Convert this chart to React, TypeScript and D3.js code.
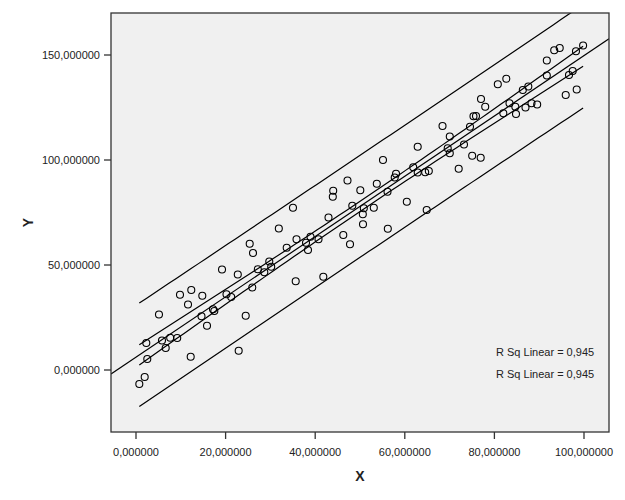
import React from "react";
import * as d3 from "d3";

const xValues = [
  0.74, 1.94, 2.30, 2.52, 5.13, 5.80, 6.63, 7.63, 9.20, 9.82,
  11.61, 12.21, 12.34, 14.62, 14.80, 15.85, 17.19, 17.48, 19.20, 20.20,
  21.25, 22.72, 22.92, 24.49, 25.38, 25.96, 26.12, 27.19, 28.64, 29.75,
  30.18, 31.88, 33.64, 35.04, 35.65, 35.83, 37.95, 38.39, 38.95, 40.74,
  41.81, 42.97, 43.93, 44.02, 46.27, 47.21, 47.77, 48.28, 50.07, 50.63,
  50.67, 50.85, 53.08, 53.75, 55.13, 56.14, 56.21, 57.75, 58.04, 60.45,
  61.88, 62.88, 62.88, 64.55, 64.89, 65.36, 68.42, 69.58, 70.04, 70.04,
  72.03, 73.21, 74.55, 75.04, 75.33, 75.89, 76.94, 77.01, 77.95, 80.76,
  81.99, 82.66, 83.37, 84.67, 84.82, 86.34, 86.94, 87.57, 88.28, 89.55,
  91.70, 91.70, 93.35, 94.58, 95.92, 96.65, 97.48, 98.21, 98.37, 99.80,
];
const yValues = [
  -6.67, -3.33, 12.86, 5.24, 26.43, 14.05, 10.48, 15.33, 15.24, 35.81,
  31.19, 6.33, 38.10, 25.62, 35.38, 21.10, 28.90, 28.10, 47.86, 36.05,
  34.76, 45.48, 9.19, 25.86, 60.10, 39.29, 55.71, 48.00, 46.52, 51.67,
  49.14, 67.38, 58.19, 77.29, 42.29, 62.24, 60.62, 57.14, 63.48, 62.29,
  44.38, 72.62, 82.52, 85.38, 64.29, 90.24, 59.86, 78.24, 85.57, 74.14,
  69.38, 77.00, 77.24, 88.71, 100.00, 84.90, 67.24, 91.67, 93.48, 80.14,
  96.52, 94.05, 106.33, 94.14, 76.19, 94.76, 116.19, 105.57, 111.19, 103.24,
  95.86, 107.38, 115.86, 102.00, 120.81, 120.95, 101.10, 129.05, 125.33, 136.05,
  122.24, 138.67, 127.00, 125.38, 121.90, 133.33, 125.00, 135.00, 127.00, 126.43,
  147.38, 140.24, 152.29, 153.33, 130.95, 140.48, 142.38, 151.76, 133.57, 154.52,
];
const xTicks = [0, 20, 40, 60, 80, 100];
const yTicks = [0, 50, 100, 150];
const xDomain = [-5.58, 105.58];
const yDomain = [-29.52, 170.0];
const xTitle = "X";
const yTitle = "Y";
const rSqLabels = ["R Sq Linear = 0,945", "R Sq Linear = 0,945"];

const W = 625;
const H = 500;
const frame = { left: 111, top: 13, right: 609, bottom: 432 };
const FONT = "'Liberation Sans', Arial, sans-serif";
const T_CRIT = 2.39;

const fmt = (v: number) => d3.format(".6f")(v).replace(".", ",");

export default function App() {
  const x = d3.scaleLinear().domain(xDomain).range([frame.left, frame.right]);
  const y = d3.scaleLinear().domain(yDomain).range([frame.bottom, frame.top]);

  const n = xValues.length;
  const mx = d3.mean(xValues) as number;
  const my = d3.mean(yValues) as number;
  let sxx = 0;
  let sxy = 0;
  for (let i = 0; i < n; i++) {
    sxx += (xValues[i] - mx) ** 2;
    sxy += (xValues[i] - mx) * (yValues[i] - my);
  }
  const b = sxy / sxx;
  const a = my - b * mx;
  let sse = 0;
  for (let i = 0; i < n; i++) sse += (yValues[i] - (a + b * xValues[i])) ** 2;
  const s = Math.sqrt(sse / (n - 2));

  const xmin = d3.min(xValues) as number;
  const xmax = d3.max(xValues) as number;
  const samples = d3.range(0, 61).map((i) => xmin + ((xmax - xmin) * i) / 60);

  const band = (k: number, sign: number) =>
    samples.map((xv) => {
      const se = s * Math.sqrt(k + 1 / n + (xv - mx) ** 2 / sxx);
      return [xv, a + b * xv + sign * T_CRIT * se] as [number, number];
    });

  const line = d3
    .line<[number, number]>()
    .x((d) => x(d[0]))
    .y((d) => y(d[1]));

  const fitPts: [number, number][] = [
    [xDomain[0], a + b * xDomain[0]],
    [xDomain[1], a + b * xDomain[1]],
  ];

  const curves = [band(0, 1), band(0, -1), band(1, 1), band(1, -1)];

  return (
    <svg
      width={W}
      height={H}
      style={{ position: "absolute", left: 0, top: 0, background: "#ffffff" }}
      fontFamily={FONT}
    >
      <defs>
        <clipPath id="plotclip">
          <rect
            x={frame.left}
            y={frame.top}
            width={frame.right - frame.left}
            height={frame.bottom - frame.top}
          />
        </clipPath>
      </defs>
      <rect x={0} y={0} width={W} height={H} fill="#ffffff" />
      <rect
        x={frame.left}
        y={frame.top}
        width={frame.right - frame.left}
        height={frame.bottom - frame.top}
        fill="#f0f0f0"
      />
      <g clipPath="url(#plotclip)" fill="none" stroke="#000" strokeWidth={1.2}>
        <path d={line(fitPts) as string} />
        {curves.map((c, i) => (
          <path key={i} d={line(c) as string} />
        ))}
        {xValues.map((xv, i) => (
          <circle
            key={i}
            cx={x(xv)}
            cy={y(yValues[i])}
            r={3.5}
            stroke="#000"
            strokeWidth={1.1}
            fill="none"
          />
        ))}
      </g>
      <rect
        x={frame.left}
        y={frame.top}
        width={frame.right - frame.left}
        height={frame.bottom - frame.top}
        fill="none"
        stroke="#333"
        strokeWidth={1.3}
      />
      {xTicks.map((v) => (
        <g key={v}>
          <line x1={x(v)} x2={x(v)} y1={frame.bottom} y2={frame.bottom + 7} stroke="#333" strokeWidth={1.3} />
          <text x={x(v)} y={frame.bottom + 24} textAnchor="middle" fontSize={11} fill="#222">
            {fmt(v)}
          </text>
        </g>
      ))}
      {yTicks.map((v) => (
        <g key={v}>
          <line x1={frame.left - 7} x2={frame.left} y1={y(v)} y2={y(v)} stroke="#333" strokeWidth={1.3} />
          <text x={frame.left - 11} y={y(v)} dy="0.35em" textAnchor="end" fontSize={11} fill="#222">
            {fmt(v)}
          </text>
        </g>
      ))}
      <text
        x={(frame.left + frame.right) / 2}
        y={481}
        textAnchor="middle"
        fontSize={14}
        fontWeight="bold"
        fill="#222"
      >
        {xTitle}
      </text>
      <text
        transform={`translate(33, ${(frame.top + frame.bottom) / 2}) rotate(-90)`}
        textAnchor="middle"
        fontSize={14}
        fontWeight="bold"
        fill="#222"
      >
        {yTitle}
      </text>
      {rSqLabels.map((lbl, i) => (
        <text key={i} x={496} y={356 + i * 22} fontSize={11} fill="#222">
          {lbl}
        </text>
      ))}
    </svg>
  );
}
